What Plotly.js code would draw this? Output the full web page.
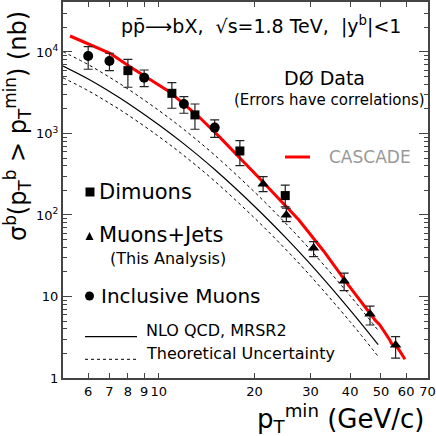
<!DOCTYPE html>
<html>
<head>
<meta charset="utf-8">
<script src="https://cdn.plot.ly/plotly-3.0.1.min.js"></script>
<style>html,body{margin:0;padding:0;background:#fff;}</style>
</head>
<body>
<div id="plot" style="width:436px;height:436px;"></div>
<script>
// b-quark cross section above pT min, D0 data vs NLO QCD and CASCADE

// Inclusive muons (circles)
const incPt  = [6, 7, 9, 12, 15];
const incSig = [8930, 7760, 4840, 2300, 1180];
const incHi  = [11600, 9640, 6010, 2830, 1465];
const incLo  = [6140, 5900, 3750, 1770, 898];

// Dimuons (squares)
const dimPt  = [8, 11, 13, 18, 25];
const dimSig = [5900, 3110, 1690, 610, 173];
const dimHi  = [8130, 4200, 2300, 816, 233];
const dimLo  = [3690, 2040, 1126, 403, 126];

// Muons+Jets (triangles)
const mjPt  = [21.3, 25.2, 30.7, 38.3, 46.2, 55.6];
const mjSig = [240, 100, 39.4, 15.5, 6.1, 2.54];
const mjHi  = [295, 121, 47, 19.3, 7.6, 3.21];
const mjLo  = [193, 82.8, 30.8, 11.8, 4.47, 1.75];

// CASCADE (red)
const casPt  = [5.26, 7.03, 8.12, 10.8, 13.4, 15.5, 20.7, 27.6, 33.0, 39.5, 47.9, 49.6, 53.3, 53.9, 56.6, 59.5];
const casSig = [15700, 9640, 6600, 3260, 1593, 914, 284, 86.8, 36.2, 13.8, 5.15, 4.47, 2.93, 2.67, 2.31, 1.70];

// NLO QCD MRSR2 with its uncertainty band
const nloPt  = [5, 6, 7, 8, 10, 12, 15, 20, 25, 30, 40, 49];
const nloSig = [6700, 4650, 3270, 2350, 1280, 745, 361, 128, 53.4, 24.9, 6.8, 2.56];
const nloHi  = [10100, 7000, 4900, 3520, 1920, 1120, 542, 192, 80, 37.4, 10.2, 3.84];
const nloLo  = [4820, 3350, 2350, 1690, 920, 536, 260, 92, 38.4, 17.9, 4.9, 1.84];

const xTicks = [6, 7, 8, 9, 10, 20, 30, 40, 50, 60, 70];

const FONT = 'DejaVu Sans, Liberation Sans, Arial, sans-serif';

function errBars(val, hi, lo) {
    return {
        type: 'data', symmetric: false,
        array: hi.map((h, i) => h - val[i]),
        arrayminus: lo.map((l, i) => val[i] - l),
        color: '#222', thickness: 1.2, width: 4.5
    };
}

let traces = [
    { x: nloPt, y: nloHi, mode: 'lines', line: { color: '#000', width: 1, dash: 'dot', shape: 'spline' } },
    { x: nloPt, y: nloLo, mode: 'lines', line: { color: '#000', width: 1, dash: 'dot', shape: 'spline' } },
    { x: nloPt, y: nloSig, mode: 'lines', line: { color: '#000', width: 1.2, shape: 'spline' } },
    { x: casPt, y: casSig, mode: 'lines', line: { color: '#ff0000', width: 3 } },
    { x: incPt, y: incSig, mode: 'markers', marker: { symbol: 'circle', size: 10, color: '#000' },
      error_y: errBars(incSig, incHi, incLo) },
    { x: dimPt, y: dimSig, mode: 'markers', marker: { symbol: 'square', size: 9, color: '#000' },
      error_y: errBars(dimSig, dimHi, dimLo) },
    { x: mjPt, y: mjSig, mode: 'markers', marker: { symbol: 'triangle-up', size: 10, color: '#000' },
      error_y: errBars(mjSig, mjHi, mjLo) }
];

let minorY = [];
[1, 10, 100, 1000, 10000].forEach(d => {
    for (let k = 2; k <= 9; k++) minorY.push(k * d);
});

// helpers: pixel position -> paper fraction
const px = v => (v - 63) / 365;
const py = v => (378 - v) / 376;

function note(text, x, y, size, opts) {
    return Object.assign({
        text: text, xref: 'paper', yref: 'paper', x: px(x), y: py(y),
        xanchor: 'left', yanchor: 'middle', showarrow: false,
        font: { family: FONT, size: size, color: '#000' }
    }, opts || {});
}

let layout = {
    width: 436, height: 436,
    margin: { l: 63, r: 8, t: 2, b: 58 },
    paper_bgcolor: '#fff', plot_bgcolor: '#fff',
    showlegend: false,
    font: { family: FONT, color: '#000' },
    xaxis: {
        type: 'log', range: [Math.log10(5), Math.log10(70.3)],
        tickmode: 'array', tickvals: xTicks, ticktext: xTicks.map(String),
        ticks: 'inside', ticklen: 5, tickcolor: '#444',
        showline: true, linecolor: '#444', linewidth: 2, mirror: 'allticks',
        showgrid: false, zeroline: false,
        tickfont: { family: FONT, size: 13, color: '#000' }
    },
    yaxis: {
        type: 'log', range: [0, 4.613],
        tickmode: 'array', tickvals: [1, 10, 100, 1000, 10000],
        ticktext: ['1', '10', '10<sup>2</sup>', '10<sup>3</sup>', '10<sup>4</sup>'],
        ticks: 'inside', ticklen: 9, tickcolor: '#444',
        minor: { tickmode: 'array', tickvals: minorY, ticks: 'inside', ticklen: 4, tickcolor: '#444', showgrid: false },
        showline: true, linecolor: '#444', linewidth: 2, mirror: 'allticks',
        showgrid: false, zeroline: false,
        tickfont: { family: FONT, size: 13, color: '#000' }
    },
    shapes: [
        { type: 'line', xref: 'paper', yref: 'paper', x0: px(285), x1: px(310), y0: py(157), y1: py(157),
          line: { color: '#ff0000', width: 3 } },
        { type: 'line', xref: 'paper', yref: 'paper', x0: px(85), x1: px(137), y0: py(336.7), y1: py(336.7),
          line: { color: '#000', width: 1.2 } },
        { type: 'line', xref: 'paper', yref: 'paper', x0: px(85), x1: px(137), y0: py(359.3), y1: py(359.3),
          line: { color: '#000', width: 1, dash: 'dot' } },
        { type: 'rect', xref: 'paper', yref: 'paper', x0: px(85.5), x1: px(94.5), y0: py(196.5), y1: py(187.5),
          fillcolor: '#000', line: { width: 0 } },
        { type: 'path', xref: 'paper', yref: 'paper',
          path: 'M' + px(85.5) + ',' + py(240) + ' L' + px(93.5) + ',' + py(240) + ' L' + px(89.5) + ',' + py(232) + ' Z',
          fillcolor: '#000', line: { width: 0 } },
        { type: 'circle', xref: 'paper', yref: 'paper', x0: px(85), x1: px(94), y0: py(300.5), y1: py(291.5),
          fillcolor: '#000', line: { width: 0 } }
    ],
    annotations: [
        note('pp\u0304\u27F6bX,\u00a0 \u221As=1.8 TeV,\u00a0 |y<sup>b</sup>|&lt;1', 261, 25, 19, { xanchor: 'center' }),
        note('D\u00D8 Data', 324, 78, 19, { xanchor: 'center' }),
        note('(Errors have correlations)', 427, 100, 15, { xanchor: 'right' }),
        note('CASCADE', 327, 157, 17, { font: { family: FONT, size: 17, color: '#999' } }),
        note('Dimuons', 97, 192, 21),
        note('Muons+Jets', 97, 235, 21),
        note('(This Analysis)', 108, 258, 16),
        note('Inclusive Muons', 99, 296, 20),
        note('NLO QCD, MRSR2', 144, 330, 16),
        note('Theoretical Uncertainty', 144, 353, 16),
        note('p<sub>T</sub><sup>min</sup> (GeV/c)', 427, 418, 26, { xanchor: 'right' }),
        note('\u03C3<sup>b</sup>(p<sub>T</sub><sup>b</sup> > p<sub>T</sub><sup>min</sup>) (nb)', 18, 126, 24,
             { xanchor: 'center', textangle: -90 })
    ]
};

Plotly.newPlot('plot', traces, layout, { staticPlot: true });
</script>
</body>
</html>
